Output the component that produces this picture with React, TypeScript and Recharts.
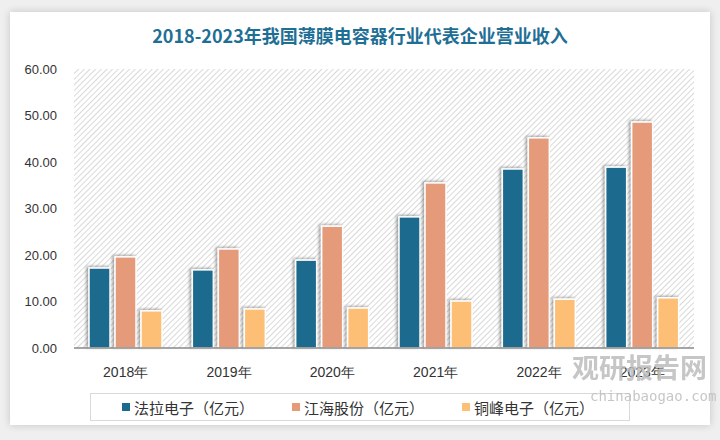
import React from 'react';
import {
  BarChart, Bar, XAxis, YAxis, Legend, ReferenceArea,
} from 'recharts';

const years = ['2018年', '2019年', '2020年', '2021年', '2022年', '2023年'];
const faraValues = [17.2, 16.8, 18.9, 28.2, 38.5, 38.9];
const jianghaiValues = [19.6, 21.3, 26.2, 35.5, 45.2, 48.6];
const tongfengValues = [8.0, 8.4, 8.6, 10.1, 10.5, 10.8];
const yTicks = [0, 10, 20, 30, 40, 50, 60];

const SERIES = [
  { key: 'fara', name: '法拉电子（亿元）', color: '#1c6a8e' },
  { key: 'jianghai', name: '江海股份（亿元）', color: '#e59a7a' },
  { key: 'tongfeng', name: '铜峰电子（亿元）', color: '#fdbf76' },
];

const chartData = years.map((year, i) => ({
  year,
  fara: faraValues[i],
  jianghai: jianghaiValues[i],
  tongfeng: tongfengValues[i],
}));

const ShadowBar = (props: any) => {
  const { x, y, width, height, fill } = props;
  if (!height || height <= 0) return null;
  return (
    <rect
      x={x}
      y={y}
      width={width}
      height={height}
      fill={fill}
      stroke="#ffffff"
      strokeWidth={1.5}
      filter="url(#barShadow)"
    />
  );
};

const LegendBox = () => (
  <div
    style={{
      width: 540,
      height: 28,
      border: '1px solid #d9d9d9',
      display: 'flex',
      alignItems: 'center',
      boxSizing: 'border-box',
      paddingLeft: 31,
      fontFamily: '"Noto Sans CJK SC", sans-serif',
      fontSize: 15,
      color: '#333',
    }}
  >
    {SERIES.map((s, i) => (
      <div key={s.key} style={{ display: 'flex', alignItems: 'center', marginRight: i < 2 ? 38 : 0 }}>
        <span style={{ width: 8, height: 8, background: s.color, display: 'inline-block', marginRight: 4 }} />
        <span>{s.name}</span>
      </div>
    ))}
  </div>
);

export default function App() {
  return (
    <div style={{ position: 'fixed', left: 0, top: 0, width: 720, height: 440, background: '#efefef', overflow: 'hidden' }}>
      <svg width={0} height={0} style={{ position: 'absolute' }}>
        <defs>
          <pattern id="hatch" width={4} height={4} patternUnits="userSpaceOnUse" patternTransform="rotate(45)">
            <rect width={4} height={4} fill="#ffffff" />
            <line x1={0} y1={0} x2={0} y2={4} stroke="#d0d0d0" strokeWidth={1.6} />
          </pattern>
          <filter id="barShadow" x="-50%" y="-10%" width="200%" height="130%">
            <feDropShadow dx={-2} dy={-1} stdDeviation={1.8} floodColor="#000" floodOpacity={0.35} />
          </filter>
        </defs>
      </svg>
      <div
        style={{
          position: 'absolute', left: 10, top: 12, width: 700, height: 413,
          background: '#ffffff', boxShadow: '0 0 8px rgba(0,0,0,0.18)',
        }}
      />
      <div
        style={{
          position: 'absolute', left: 0, top: 22, width: 720, textAlign: 'center',
          fontFamily: '"Noto Sans CJK SC", sans-serif', fontWeight: 700, fontSize: 18,
          color: '#1f6f95',
        }}
      >
        2018-2023年我国薄膜电容器行业代表企业营业收入
      </div>
      <div style={{ position: 'absolute', left: 0, top: 0 }}>
        <BarChart
          width={720}
          height={440}
          data={chartData}
          margin={{ top: 69, right: 26, left: 0, bottom: 34 }}
          barSize={21}
          barGap={5}
        >
          <ReferenceArea x1={years[0]} x2={years[5]} y1={0} y2={60} fill="url(#hatch)" fillOpacity={1} stroke="none" ifOverflow="extendDomain" />
          <XAxis
            dataKey="year"
            tick={{ fill: '#333', fontSize: 14, fontFamily: '"Liberation Sans", sans-serif' }}
            axisLine={{ stroke: '#888', strokeWidth: 1.5 }}
            tickLine={false}
            tickSize={0}
            tickMargin={19}
          />
          <YAxis
            width={74}
            domain={[0, 60]}
            ticks={yTicks}
            interval={0}
            tickFormatter={(v) => v.toFixed(2)}
            tick={{ fill: '#333', fontSize: 13, fontFamily: '"Liberation Sans", sans-serif' }}
            axisLine={false}
            tickLine={false}
            tickSize={0}
            tickMargin={17}
          />
          <Legend
            verticalAlign="bottom"
            content={<LegendBox />}
            wrapperStyle={{ left: 90, top: 393, width: 540, bottom: 'auto' }}
          />
          {SERIES.map((s) => (
            <Bar
              key={s.key}
              dataKey={s.key}
              name={s.name}
              fill={s.color}
              shape={<ShadowBar />}
              isAnimationActive={false}
            />
          ))}
        </BarChart>
      </div>
      <div
        style={{
          position: 'absolute', left: 572, top: 352, color: '#bdbdbd', opacity: 0.85,
          fontFamily: '"Noto Sans CJK SC", sans-serif', fontWeight: 700, fontSize: 27, lineHeight: '30px',
          pointerEvents: 'none',
        }}
      >
        观研报告网
      </div>
      <div
        style={{
          position: 'absolute', left: 590, top: 388, color: '#bdbdbd', opacity: 0.85,
          fontFamily: '"DejaVu Sans Mono", monospace', fontSize: 14, pointerEvents: 'none',
        }}
      >
        chinabaogao.com
      </div>
    </div>
  );
}
